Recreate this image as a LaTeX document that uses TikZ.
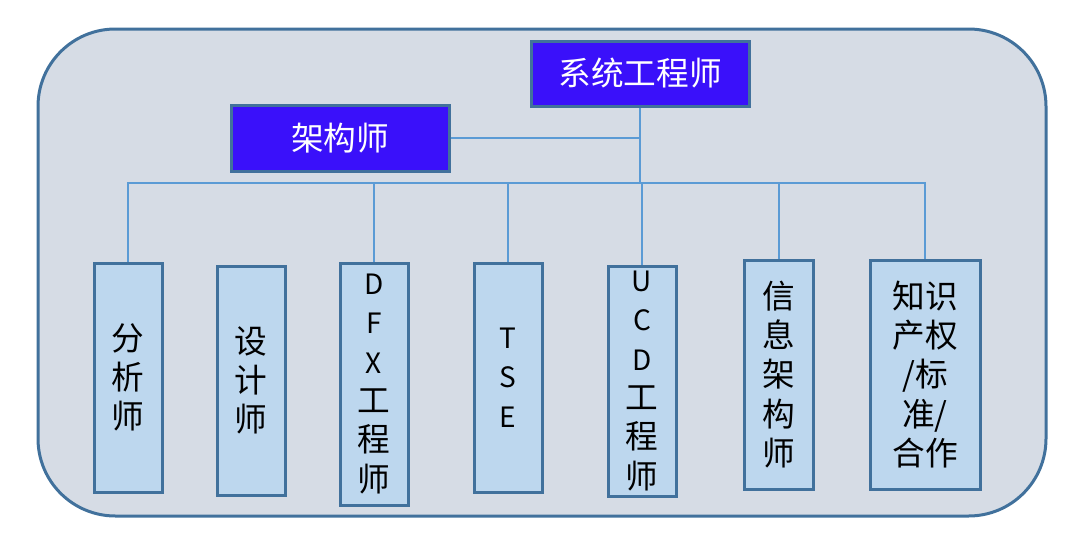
\documentclass[tikz,border=0pt]{standalone}
\usepackage{fontspec}
\setmainfont{Noto Sans CJK SC}
\usepackage{tikz}
\definecolor{panelfill}{RGB}{214,220,229}
\definecolor{edgeblue}{RGB}{65,113,156}
\definecolor{headfill}{RGB}{58,16,250}
\definecolor{rolefill}{RGB}{189,215,238}
\definecolor{linkblue}{RGB}{91,155,213}

\begin{document}
\begin{tikzpicture}[x=0.75pt,y=-0.75pt,
  headbox/.style={draw=edgeblue, line width=2.25pt, fill=headfill, text=white, inner sep=0pt,
    minimum width=163.5pt, font=\fontsize{24.5}{29}\selectfont},
  rolebox/.style={draw=edgeblue, line width=2.25pt, fill=rolefill, inner sep=0pt, align=center,
    minimum width=51pt, minimum height=171.75pt, font=\fontsize{24.5}{29.5}\selectfont},
  link/.style={draw=linkblue, line width=0.8pt}]
  \useasboundingbox (0,0) rectangle (1068,536);
  \draw[edgeblue, fill=panelfill, line width=2.25pt, rounded corners=58pt] (38,29) rectangle (1046,516);
  \node[headbox, minimum height=48.75pt] (xtgcs) at (640,73.5) {系统工程师};
  \node[headbox, minimum height=49.5pt] (jgs) at (340,138) {架构师};
  \newcommand{\lat}[1]{{\fontsize{21}{29.5}\selectfont #1}}
  \node[rolebox] (fxs) at (128,377.5) {分\\析\\师};
  \node[rolebox] (sjs) at (251,380.5) {设\\计\\师};
  \node[rolebox, minimum height=181.5pt] (dfx) at (374,384) {\lat{D}\\\lat{F}\\\lat{X}\\工\\程\\师};
  \node[rolebox] (tse) at (508,377.5) {\lat{T}\\\lat{S}\\\lat{E}};
  \node[rolebox, minimum height=172.5pt] (ucd) at (642,381) {\lat{U}\\\lat{C}\\\lat{D}\\工\\程\\师};
  \node[rolebox, minimum width=51.75pt] (xxjgs) at (779,374.5) {信\\息\\架\\构\\师};
  \node[rolebox, minimum width=82.5pt] (zscq) at (925,374.5) {知识\\产权\\/标\\准/\\合作};
  \coordinate (bus) at (640,183);
  \draw[link, line width=1.5pt] (xtgcs.south) -- (bus);
  \draw[link] (jgs.east) -- (jgs.east -| xtgcs.south);
  \foreach \r in {fxs,dfx,tse,ucd,xxjgs,zscq}
    \draw[link] (bus) -| (\r.north);
\end{tikzpicture}
\end{document}
